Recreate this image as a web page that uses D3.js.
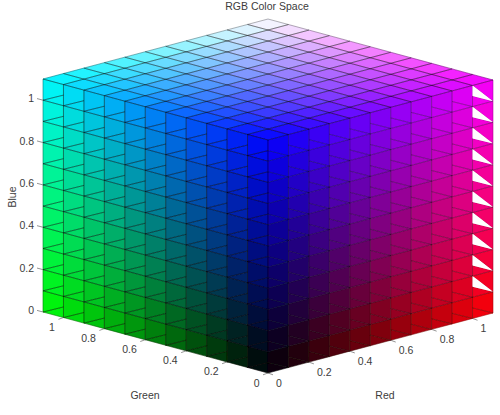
<!DOCTYPE html>
<html><head><meta charset="utf-8">
<script src="https://cdn.jsdelivr.net/npm/d3@7"></script>
<style>html,body{margin:0;padding:0;background:#fff}svg{display:block}
text{font-family:"Liberation Sans",Arial,sans-serif;fill:#3c3c3c}</style></head>
<body><svg id="c" width="500" height="415"></svg>
<script>
const gridLevels=[0,0.1,0.2,0.3,0.4,0.5,0.6,0.7,0.8,0.9,1,1.1];
const axisTicks=[0,0.2,0.4,0.6,0.8,1];
const gapRows=[1,2,3,4,5,6,7,8,9,10];
const title="RGB Color Space", labelRed="Red", labelGreen="Green", labelBlue="Blue";

const max=1.1;
const rx=d3.scaleLinear([0,max],[268,493]), ry=d3.scaleLinear([0,max],[0,-60]);
const gx=d3.scaleLinear([0,max],[0,-225]), gy=d3.scaleLinear([0,max],[0,-61]);
const by=d3.scaleLinear([0,max],[373,140]);
const chan=d3.scaleLinear([0,max],[0,255]).clamp(true);
const P=(r,g,b)=>[rx(r)+gx(g),by(b)+ry(r)+gy(g)];
const mean=a=>a.reduce((s,v)=>s+v,0)/a.length;
// a triangle keeps most of its cell's colour, with a small share of its own centre
const colorOf=(pts,cell)=>{
  const ch=k=>chan(0.75*mean(cell.map(p=>p[k]))+0.25*mean(pts.map(p=>p[k])));
  return d3.rgb(ch(0),ch(1),ch(2)).formatRgb();
};

const lineOpacity={top:0.42,left:0.42,right:0.26};
const polys=[];
const add=(face,cube,cell)=>polys.push({face,pts:cube.map(p=>P(...p)),fill:colorOf(cube,cell)});
const L=gridLevels, n=L.length-1;
d3.range(n).forEach(i=>d3.range(n).forEach(j=>{
  const a=L[i],c=L[i+1],lo=L[j],hi=L[j+1],mid=(lo+hi)/2;
  const top=[[a,lo,max],[c,lo,max],[c,hi,max],[a,hi,max]];
  const left=[[0,c,lo],[0,a,lo],[0,a,hi],[0,c,hi]];
  const right=[[c,0,lo],[a,0,lo],[a,0,hi],[c,0,hi]];
  add("top",top,top);
  add("left",[[0,c,lo],[0,a,lo],[0,a,mid]],left);
  add("left",[[0,c,lo],[0,a,mid],[0,a,hi],[0,c,hi]],left);
  add("right",[[c,0,lo],[a,0,lo],[a,0,mid]],right);
  if(i===n-1 && gapRows.includes(j)) add("right",[[c,0,lo],[a,0,hi],[c,0,hi]],right);
  else add("right",[[c,0,lo],[a,0,mid],[a,0,hi],[c,0,hi]],right);
}));

const svg=d3.select("#c");
svg.append("defs").append("filter").attr("id","soft").attr("x","-5%").attr("y","-5%").attr("width","110%").attr("height","110%")
  .append("feGaussianBlur").attr("stdDeviation",0.7);
const cube=svg.append("g").attr("filter","url(#soft)");
cube.selectAll("polygon.fill").data(polys).join("polygon").attr("class","fill")
  .attr("points",d=>d.pts.join(" ")).attr("fill",d=>d.fill).attr("stroke",d=>d.fill).attr("stroke-width",0.4);
cube.selectAll("polygon.line").data(polys).join("polygon").attr("class","line")
  .attr("points",d=>d.pts.join(" ")).attr("fill","none").attr("stroke","#000")
  .attr("stroke-opacity",d=>lineOpacity[d.face]).attr("stroke-width",0.7);
cube.selectAll("polygon.gap").data(gapRows).join("polygon").attr("class","gap")
  .attr("points",j=>[P(L[n-1],0,L[j+1]),P(L[n-1],0,(L[j]+L[j+1])/2),P(max,0,L[j])].join(" "))
  .attr("fill","#fff");

const axes=svg.append("g");
const seg=(cls,data,f)=>axes.selectAll("line."+cls).data(data).join("line").attr("class",cls)
  .each(function(t){const [a,b]=f(t);d3.select(this).attr("x1",a[0]).attr("y1",a[1]).attr("x2",b[0]).attr("y2",b[1]);})
  .attr("stroke","#666").attr("stroke-width",0.7);
seg("tb",axisTicks,t=>{const p=P(0,max,t);return [p,[p[0]-6,p[1]-1.6]];});
seg("tg",axisTicks,t=>{const p=P(0,t,0);return [p,[p[0]-5,p[1]+1.8]];});
seg("tr",axisTicks,t=>{const p=P(t,0,0);return [p,[p[0]+5,p[1]+1.8]];});
const fmt=d3.format("~g");
const lab=(cls,data,f,anchor)=>axes.selectAll("text."+cls).data(data).join("text").attr("class",cls)
  .attr("x",t=>f(t)[0]).attr("y",t=>f(t)[1]).attr("text-anchor",anchor).attr("font-size",10.5)
  .attr("dominant-baseline","central").text(fmt);
lab("lb",axisTicks,t=>{const p=P(0,max,t);return [34,p[1]-2];},"end");
lab("lg",axisTicks,t=>{const p=P(0,t,0);return [p[0]-8.5,p[1]+9.5];},"end");
lab("lr",axisTicks,t=>{const p=P(t,0,0);return [p[0]+8,p[1]+9.5];},"start");

const tx=(s,x,y,rot)=>svg.append("text").attr("x",x).attr("y",y).attr("text-anchor","middle")
  .attr("dominant-baseline","central").attr("font-size",10.5).attr("transform",rot?`rotate(-90 ${x} ${y})`:null).text(s);
tx(title,267,6);
tx(labelGreen,145,395);
tx(labelRed,385,395);
tx(labelBlue,12,197,true);
</script></body></html>
